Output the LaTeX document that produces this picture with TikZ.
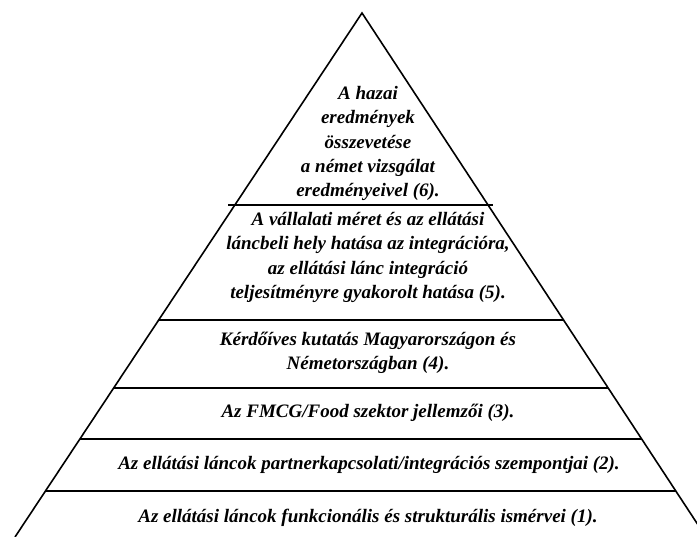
\documentclass[tikz,border=0pt]{standalone}
\usepackage{fontspec}
\setmainfont{Liberation Serif}
\begin{document}
\begin{tikzpicture}[x=1pt,y=-1pt,
  edge/.style={line width=1.6pt},
  tier/.style={line width=2pt},
  lbl/.style={align=center,inner sep=0pt,
    font=\fontsize{19}{24.3}\selectfont\bfseries\itshape}]
\useasboundingbox (0,0) rectangle (697,537);
\clip (0,0) rectangle (697,537);

% outline of the pyramid
\coordinate (apex) at (362,13);
\coordinate (bl) at (15,537);
\coordinate (br) at (706,537);
\draw[edge] (bl) -- (apex) -- (br);

% dividing lines between the levels
\coordinate (d1l) at (228,205.5); \coordinate (d1r) at (493,205.5);
\coordinate (d2l) at (159,320.5); \coordinate (d2r) at (564,320.5);
\coordinate (d3l) at (114,388);   \coordinate (d3r) at (608,388);
\coordinate (d4l) at (80,439.3);  \coordinate (d4r) at (642,439.3);
\coordinate (d5l) at (46,490.7);  \coordinate (d5r) at (676,490.7);
\foreach \i in {1,...,5} \draw[tier] (d\i l) -- (d\i r);

% level labels
\node[lbl] (t6) at (368,143.5) {A hazai\\eredmények\\összevetése\\a német vizsgálat\\eredményeivel (6).};
\node[lbl] (t5) at (368,257.5) {A vállalati méret és az ellátási\\láncbeli hely hatása az integrációra,\\az ellátási lánc integráció\\teljesítményre gyakorolt  hatása (5).};
\node[lbl] (t4) at (368,352.5) {Kérdőíves kutatás Magyarországon és\\Németországban (4).};
\node[lbl] (t3) at (368,413) {Az FMCG/Food szektor jellemzői (3).};
\node[lbl] (t2) at (369,465) {Az ellátási láncok partnerkapcsolati/integrációs szempontjai (2).};
\node[lbl] (t1) at (368,518) {Az ellátási láncok funkcionális és strukturális ismérvei (1).};
\end{tikzpicture}
\end{document}
